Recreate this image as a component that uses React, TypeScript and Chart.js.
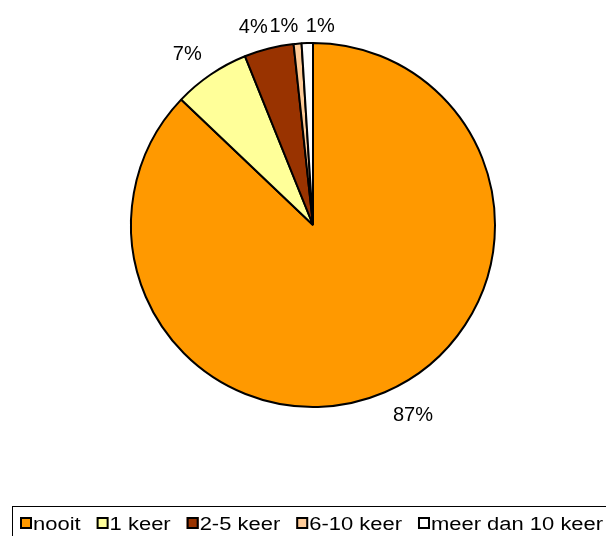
import React, { useEffect, useRef } from "react";
import { Chart, registerables } from "chart.js";

Chart.register(...registerables);

const categories = ["nooit", "1 keer", "2-5 keer", "6-10 keer", "meer dan 10 keer"];
const shares = [87.1, 6.8, 4.4, 0.7, 1.0];
const sliceColors = ["#FF9900", "#FFFF99", "#993300", "#FFCC99", "#FFFFFF"];
// small pixel nudges for the percentage labels (Excel-like placement)
const labelNudges: [number, number][] = [
  [16, -7],
  [-6, 4],
  [-8, 7],
  [-11, 12],
  [14, 13],
];

const FONT = "'Liberation Sans', Arial, Helvetica, sans-serif";

const percentLabels = {
  id: "percentLabels",
  afterDatasetsDraw(chart: any) {
    const ctx = chart.ctx;
    const meta = chart.getDatasetMeta(0);
    const values: number[] = chart.data.datasets[0].data;
    const total = values.reduce((a, b) => a + b, 0);
    const size = 20;
    ctx.save();
    ctx.font = `${size}px ${FONT}`;
    ctx.fillStyle = "#000";
    ctx.textAlign = "center";
    ctx.textBaseline = "alphabetic";
    meta.data.forEach((arc: any, i: number) => {
      const p = arc.getProps(["x", "y", "startAngle", "endAngle", "outerRadius"], true);
      const mid = (p.startAngle + p.endAngle) / 2;
      const r = p.outerRadius + 31;
      const cx = p.x + Math.cos(mid) * r + labelNudges[i][0];
      const cy = p.y + Math.sin(mid) * r + labelNudges[i][1];
      const txt = Math.round((values[i] / total) * 100) + "%";
      ctx.fillText(txt, cx, cy + size * 0.358);
    });
    ctx.restore();
  },
};

const boxedLegend = {
  id: "boxedLegend",
  afterDraw(chart: any) {
    const ctx = chart.ctx;
    const labels: string[] = chart.data.labels;
    const colors: string[] = chart.data.datasets[0].backgroundColor;
    const size = 18;
    const stretch = 1.22;
    const sw = 12;
    ctx.save();
    ctx.strokeStyle = "#000";
    ctx.lineWidth = 1;
    ctx.strokeRect(12.5, 506.5, 700, 100);
    ctx.font = `${size}px ${FONT}`;
    ctx.textBaseline = "alphabetic";
    ctx.textAlign = "left";
    let x = 20;
    const swTop = 517;
    const base = 529.5;
    labels.forEach((lab, i) => {
      ctx.fillStyle = colors[i];
      ctx.fillRect(x, swTop, sw, sw);
      ctx.lineWidth = 2;
      ctx.strokeStyle = "#000";
      ctx.strokeRect(x + 1, swTop + 1, sw - 2, sw - 2);
      const tx = x + sw + 1;
      const w = ctx.measureText(lab).width * stretch;
      ctx.save();
      ctx.translate(tx, base);
      ctx.scale(stretch, 1);
      ctx.fillStyle = "#000";
      ctx.fillText(lab, 0, 0);
      ctx.restore();
      x = tx + w + 16;
    });
    ctx.restore();
  },
};

export default function App() {
  const ref = useRef<HTMLCanvasElement | null>(null);
  useEffect(() => {
    document.body.style.margin = "0";
    if (!ref.current) return;
    const chart = new Chart(ref.current, {
      type: "pie",
      data: {
        labels: categories,
        datasets: [
          {
            data: shares,
            backgroundColor: sliceColors,
            borderColor: "#000",
            borderWidth: 2,
          },
        ],
      },
      options: {
        responsive: false,
        animation: false,
        devicePixelRatio: 1,
        layout: { padding: { left: 130, right: 110, top: 42, bottom: 128 } },
        plugins: {
          legend: { display: false },
          tooltip: { enabled: false },
        },
      },
      plugins: [percentLabels, boxedLegend],
    });
    return () => chart.destroy();
  }, []);
  return (
    <div style={{ width: 606, height: 536, background: "#fff" }}>
      <canvas ref={ref} width={606} height={536} style={{ display: "block" }} />
    </div>
  );
}
